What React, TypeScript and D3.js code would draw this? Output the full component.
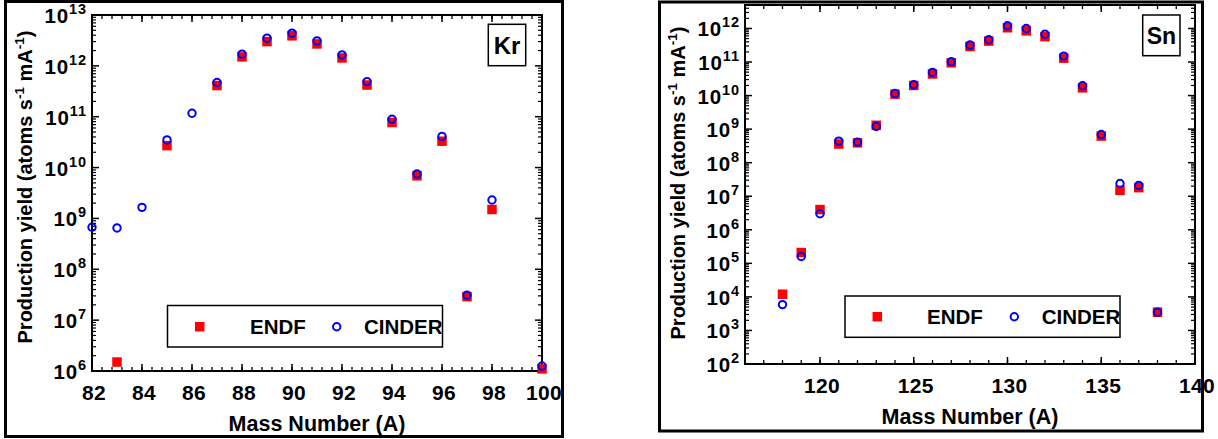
import React from "react"
import * as d3 from "d3"

// Kr panel
const krMass = [82, 83, 84, 85, 86, 87, 88, 89, 90, 91, 92, 93, 94, 95, 96, 97, 98, 100]
const krEndf = [null, 1.5e6, null, 2.7e10, null, 4.1e11, 1.5e12, 3.0e12, 3.9e12, 2.7e12, 1.43e12, 4.2e11, 7.7e10, 6.9e9, 3.3e10, 2.9e7, 1.5e9, 1.1e6]
const krCinder = [6.7e8, 6.5e8, 1.65e9, 3.5e10, 1.17e11, 4.7e11, 1.7e12, 3.5e12, 4.4e12, 3.1e12, 1.64e12, 4.9e11, 8.9e10, 7.5e9, 4.1e10, 3.1e7, 2.3e9, 1.25e6]
const krXTicks = [82, 84, 86, 88, 90, 92, 94, 96, 98, 100]
const krYExp = [6, 7, 8, 9, 10, 11, 12, 13]

// Sn panel
const snMass = [118, 119, 120, 121, 122, 123, 124, 125, 126, 127, 128, 129, 130, 131, 132, 133, 134, 135, 136, 137, 138]
const snEndf = [1.2e4, 2.1e5, 4.0e6, 3.6e8, 3.9e8, 1.3e9, 1.1e10, 2.0e10, 4.4e10, 9.5e10, 2.9e11, 4.2e11, 1.05e12, 8.5e11, 5.7e11, 1.3e11, 1.7e10, 6.2e8, 1.5e7, 1.8e7, 3.5e3]
const snCinder = [5.9e3, 1.6e5, 3.0e6, 4.4e8, 4.1e8, 1.2e9, 1.15e10, 2.1e10, 4.9e10, 1.02e11, 3.2e11, 4.6e11, 1.2e12, 1.0e12, 6.7e11, 1.5e11, 1.96e10, 6.9e8, 2.4e7, 2.1e7, 3.5e3]
const snXTicks = [120, 125, 130, 135, 140]
const snYExp = [2, 3, 4, 5, 6, 7, 8, 9, 10, 11, 12]

const seriesNames = ["ENDF", "CINDER"]

const FONT = "'Liberation Sans', Arial, sans-serif"
const RED = "#ff0000"
const BLUE = "#0000ff"

const Panel = (p: any) => {
  const {mass, endf, cinder, xDomain, yDomain, xTicks, yExp, minorStep, box, frame, legend, tag, tagBox, ylab, xlabY, xtickY} = p
  const x = d3.scaleLinear().domain(xDomain).range([box.l, box.r])
  const y = d3.scaleLog().domain(yDomain).range([box.b, box.t])

  const minorX = d3.range(xDomain[0], xDomain[1] + 1e-9, minorStep)
  const minorY: number[] = []
  yExp.forEach((e: number) => {
    for (let k = 2; k <= 9; k++) {
      const v = k * Math.pow(10, e)
      if (v <= yDomain[1] * 1.0001) minorY.push(v)
    }
  })

  const sq = 9.5
  const rr = 3.7

  return (
    <g fontFamily={FONT} fontWeight="bold">
      <rect x={frame.x} y={frame.y} width={frame.w} height={frame.h} fill="none" stroke="#000" strokeWidth={3} />
      {/* axes box */}
      <rect x={box.l} y={box.t} width={box.r - box.l} height={box.b - box.t} fill="none" stroke="#000" strokeWidth={2} />
      {/* x ticks */}
      {minorX.map((v, i) => (
        <g key={"mx" + i} stroke="#000" strokeWidth={1.3}>
          <line x1={x(v)} x2={x(v)} y1={box.b} y2={box.b - 4} />
          <line x1={x(v)} x2={x(v)} y1={box.t} y2={box.t + 4} />
        </g>
      ))}
      {xTicks.map((v: number) => (
        <g key={"x" + v}>
          <line x1={x(v)} x2={x(v)} y1={box.b} y2={box.b - 7} stroke="#000" strokeWidth={1.5} />
          <line x1={x(v)} x2={x(v)} y1={box.t} y2={box.t + 7} stroke="#000" strokeWidth={1.5} />
          <text x={x(v) + 2} y={xtickY} textAnchor="middle" fontSize={21} letterSpacing={0.3}>{v}</text>
        </g>
      ))}
      {/* y ticks */}
      {minorY.map((v, i) => (
        <g key={"my" + i} stroke="#000" strokeWidth={1.2}>
          <line x1={box.l} x2={box.l + 4} y1={y(v)} y2={y(v)} />
          <line x1={box.r} x2={box.r - 4} y1={y(v)} y2={y(v)} />
        </g>
      ))}
      {yExp.map((e: number) => {
        const v = Math.pow(10, e)
        return (
          <g key={"y" + e}>
            <line x1={box.l} x2={box.l + 7} y1={y(v)} y2={y(v)} stroke="#000" strokeWidth={1.5} />
            <line x1={box.r} x2={box.r - 7} y1={y(v)} y2={y(v)} stroke="#000" strokeWidth={1.5} />
            <text x={box.l - 5} y={y(v) + 8} textAnchor="end" fontSize={20.5} letterSpacing={0.9}>
              10<tspan dy={-9} fontSize={14.5}>{e}</tspan>
            </text>
          </g>
        )
      })}
      {/* data */}
      {mass.map((m: number, i: number) => endf[i] == null ? null : (
        <rect key={"e" + i} x={x(m) - sq / 2} y={y(endf[i]) - sq / 2} width={sq} height={sq} fill={RED} />
      ))}
      {mass.map((m: number, i: number) => (
        <circle key={"c" + i} cx={x(m)} cy={y(cinder[i])} r={rr} fill="none" stroke={BLUE} strokeWidth={2} />
      ))}
      {/* legend */}
      <rect x={legend.x} y={legend.y} width={legend.w} height={legend.h} fill="#fff" stroke="#000" strokeWidth={1.5} />
      <rect x={legend.sx - sq / 2} y={legend.my - sq / 2} width={sq} height={sq} fill={RED} />
      <text x={legend.tx1} y={legend.ty} fontSize={20.5}>{seriesNames[0]}</text>
      <circle cx={legend.cx} cy={legend.my} r={rr} fill="none" stroke={BLUE} strokeWidth={2} />
      <text x={legend.tx2} y={legend.ty} fontSize={20.5}>{seriesNames[1]}</text>
      {/* element tag */}
      <rect x={tagBox.x} y={tagBox.y} width={tagBox.w} height={tagBox.h} fill="#fff" stroke="#000" strokeWidth={1.5} />
      <text x={tagBox.x + tagBox.w / 2} y={tagBox.ty} textAnchor="middle" fontSize={tagBox.fs}>{tag}</text>
      {/* axis titles */}
      <text x={(box.l + box.r) / 2} y={xlabY} textAnchor="middle" fontSize={21.5}>Mass Number (A)</text>
      <text transform={`translate(${ylab.x},${ylab.y}) rotate(-90)`} textAnchor="middle" fontSize={20}>
        Production yield (atoms s<tspan dy={-8} fontSize={13.5}>-1</tspan>
        <tspan dy={8}> mA</tspan><tspan dy={-8} fontSize={13.5}>-1</tspan><tspan dy={8}>)</tspan>
      </text>
    </g>
  )
}

export default function App() {
  return (
    <svg width={1218} height={439} style={{position: "absolute", left: 0, top: 0, background: "#fff"}}>
      <rect width={1218} height={439} fill="#fff" />
      <Panel
        mass={krMass} endf={krEndf} cinder={krCinder}
        xDomain={[82, 100]} yDomain={[1e6, 1e13]} xTicks={krXTicks} yExp={krYExp} minorStep={0.4}
        box={{l: 92, r: 542, t: 15, b: 371}}
        frame={{x: 5.5, y: 1.5, w: 557, h: 435}}
        legend={{x: 167.5, y: 305.5, w: 275, h: 41.5, sx: 199.7, cx: 336.7, my: 326.7, tx1: 250, tx2: 364, ty: 334}}
        tag="Kr" tagBox={{x: 488.3, y: 24.3, w: 37.4, h: 41.4, ty: 53.5, fs: 24}}
        ylab={{x: 32, y: 187}} xlabY={431} xtickY={400}
      />
      <Panel
        mass={snMass} endf={snEndf} cinder={snCinder}
        xDomain={[116, 140]} yDomain={[1e2, 5e12]} xTicks={snXTicks} yExp={snYExp} minorStep={1}
        box={{l: 745, r: 1195, t: 5, b: 364}}
        frame={{x: 659.5, y: 2, w: 543, h: 429}}
        legend={{x: 845, y: 296, w: 275, h: 41.3, sx: 877.3, cx: 1014.3, my: 316.7, tx1: 927, tx2: 1041.7, ty: 324.3}}
        tag="Sn" tagBox={{x: 1142.7, y: 15, w: 37.3, h: 40.7, ty: 44, fs: 23}}
        ylab={{x: 685, y: 183}} xlabY={424} xtickY={393}
      />
    </svg>
  )
}
